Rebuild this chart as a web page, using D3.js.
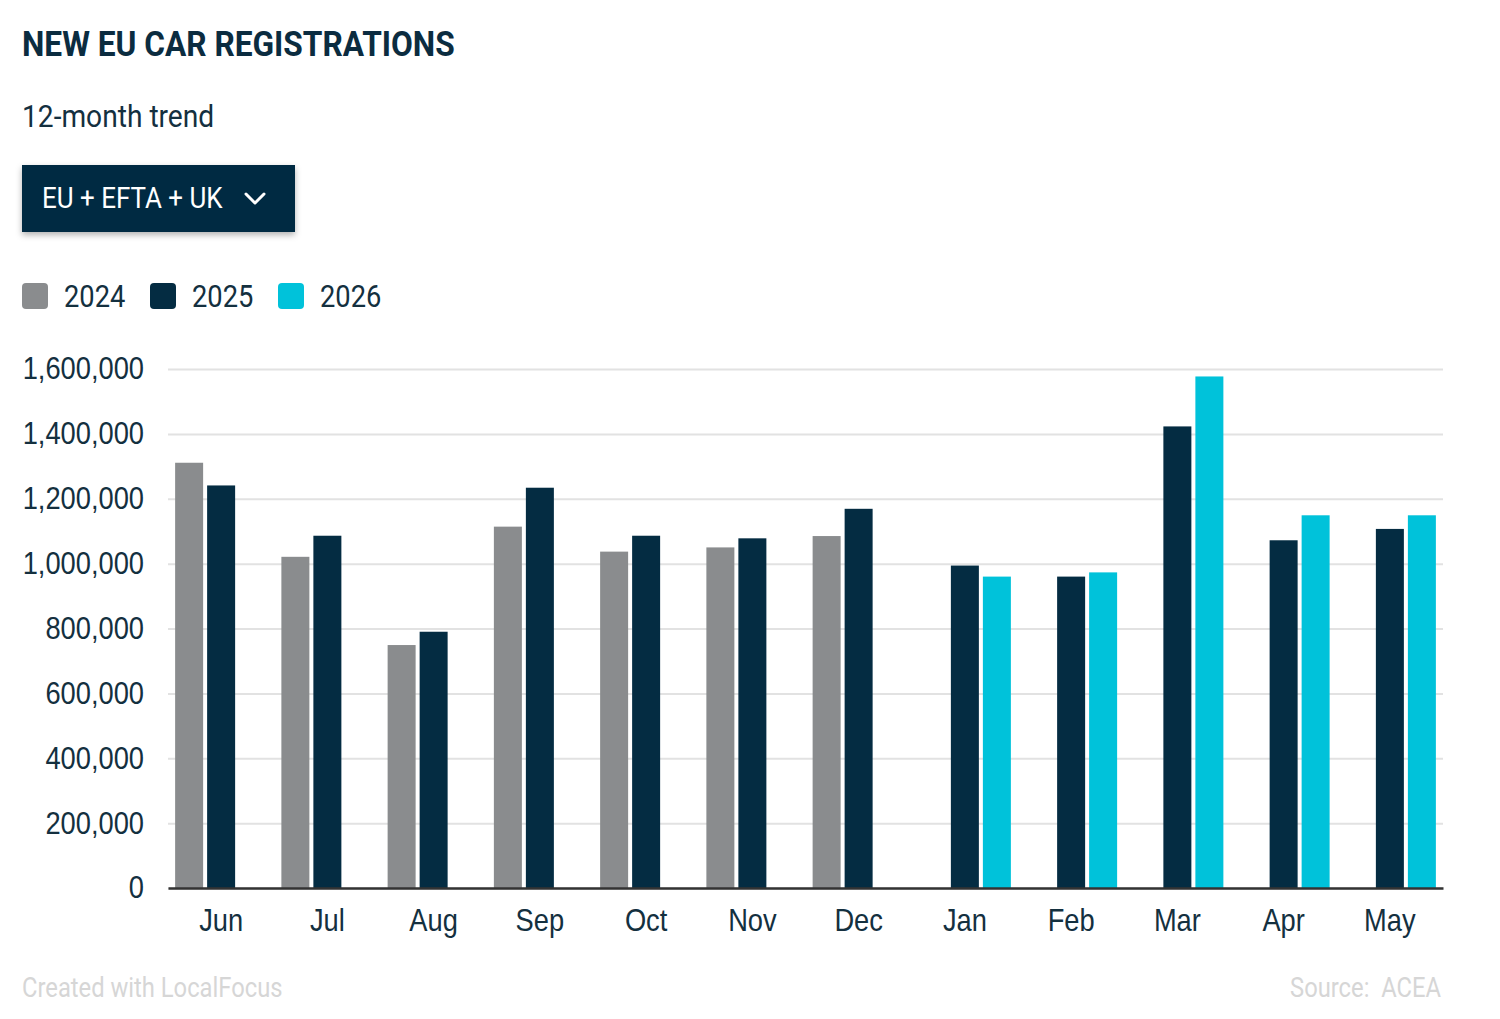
<!DOCTYPE html>
<html>
<head>
<meta charset="utf-8">
<script src="https://cdn.jsdelivr.net/npm/d3@7"></script>
<style>
  html, body { margin: 0; padding: 0; background: #fff; }
  svg { display: block; font-family: Roboto, "Noto Sans", sans-serif; }
</style>
</head>
<body>
<svg id="chart" width="1500" height="1019"></svg>
<script>
// data
const months = ["Jun", "Jul", "Aug", "Sep", "Oct", "Nov", "Dec", "Jan", "Feb", "Mar", "Apr", "May"];
const years = ["2024", "2025", "2026"];
const values2024 = [1311000, 1021000, 749000, 1114000, 1037000, 1050000, 1085000, null, null, null, null, null];
const values2025 = [1241000, 1086000, 790000, 1234000, 1086000, 1078000, 1169000, 994000, 960000, 1423000, 1072000, 1107000];
const values2026 = [null, null, null, null, null, null, null, 960000, 973000, 1577000, 1149000, 1149000];
const yTicks = [0, 200000, 400000, 600000, 800000, 1000000, 1200000, 1400000, 1600000];

const colors = { "2024": "#8a8c8e", "2025": "#042c42", "2026": "#00c2da" };
const textColor = "#14303f";
const squeeze = 0.88; // stand-in for a condensed face

const series = { "2024": values2024, "2025": values2025, "2026": values2026 };
const rows = [];
months.forEach((m, i) => {
  years.forEach(yr => {
    if (series[yr][i] != null) rows.push({ month: m, year: yr, value: series[yr][i] });
  });
});

const svg = d3.select("#chart");

const condense = (sel) => {
  sel.each(function () {
    const t = d3.select(this);
    const x = +t.attr("x") || 0;
    t.attr("x", x / squeeze).attr("transform", `scale(${squeeze},1)`);
  });
};

const addText = (x, y, str, opts = {}) => {
  const g = svg.append("g").attr("transform", `translate(${x},${y})`);
  g.append("text")
    .attr("transform", `scale(${squeeze},1)`)
    .attr("text-anchor", opts.anchor || "start")
    .attr("font-size", opts.size || 30)
    .attr("font-weight", opts.weight || 400)
    .attr("fill", opts.fill || textColor)
    .text(str);
  return g;
};

// header
addText(22, 56, "NEW EU CAR REGISTRATIONS", { size: 36, weight: 700, fill: "#0b2c40" });
addText(22, 127, "12-month trend", { size: 32 });

// dropdown button
const defs = svg.append("defs");
const shadow = defs.append("filter").attr("id", "shadow")
  .attr("x", "-10%").attr("y", "-20%").attr("width", "120%").attr("height", "160%");
shadow.append("feDropShadow")
  .attr("dx", 0).attr("dy", 3).attr("stdDeviation", 3)
  .attr("flood-color", "#000").attr("flood-opacity", 0.3);

svg.append("rect")
  .attr("x", 22).attr("y", 165).attr("width", 273).attr("height", 67)
  .attr("fill", "#062c43")
  .attr("filter", "url(#shadow)");
addText(42, 208, "EU + EFTA + UK", { size: 29.5, fill: "#ffffff" });
svg.append("path")
  .attr("d", "M246,194 L255,203 L264,194")
  .attr("fill", "none").attr("stroke", "#fff").attr("stroke-width", 3)
  .attr("stroke-linecap", "round").attr("stroke-linejoin", "round");

// legend
const legend = svg.append("g").attr("transform", "translate(22,283)");
const legendX = d3.scalePoint().domain(years).range([0, 256]);
years.forEach(yr => {
  const item = legend.append("g").attr("transform", `translate(${legendX(yr)},0)`);
  item.append("rect").attr("width", 26).attr("height", 26).attr("rx", 4).attr("fill", colors[yr]);
  item.append("text")
    .attr("x", 42).attr("y", 24)
    .attr("font-size", 31).attr("fill", textColor)
    .text(yr)
    .call(condense);
});

// chart
const x0 = d3.scaleBand().domain(months).range([168, 1443]);
const bw = x0.bandwidth();
const x1 = d3.scaleBand().domain(years).range([(bw - 92) / 2, (bw + 92) / 2]).paddingInner(0.125);
const y = d3.scaleLinear().domain([0, 1600000]).range([888, 369]);

const yAxis = svg.append("g")
  .attr("transform", "translate(168,0)")
  .call(d3.axisLeft(y).tickValues(yTicks).tickSize(-(1443 - 168)).tickPadding(24).tickFormat(d3.format(",")));
yAxis.select(".domain").remove();
yAxis.selectAll(".tick line").attr("stroke", "#e2e2e2").attr("stroke-width", 2);
yAxis.selectAll(".tick text")
  .attr("font-size", 31).attr("fill", textColor).attr("font-family", null)
  .call(condense);

svg.append("g")
  .selectAll("rect")
  .data(rows)
  .join("rect")
  .attr("x", d => x0(d.month) + x1(d.year))
  .attr("y", d => y(d.value))
  .attr("width", x1.bandwidth())
  .attr("height", d => y(0) - y(d.value))
  .attr("fill", d => colors[d.year]);

const xAxis = svg.append("g")
  .attr("transform", "translate(0,888)")
  .call(d3.axisBottom(x0).tickSize(0).tickPadding(21));
xAxis.select(".domain").attr("stroke", "#333").attr("stroke-width", 2.5);
xAxis.selectAll(".tick text")
  .attr("font-size", 31).attr("fill", textColor).attr("font-family", null)
  .call(condense);

// footer
addText(22, 997, "Created with LocalFocus", { size: 27, fill: "#d6d6d6" });
addText(1441, 997, "Source:\u00a0 ACEA", { size: 27, fill: "#d6d6d6", anchor: "end" });
</script>
</body>
</html>
